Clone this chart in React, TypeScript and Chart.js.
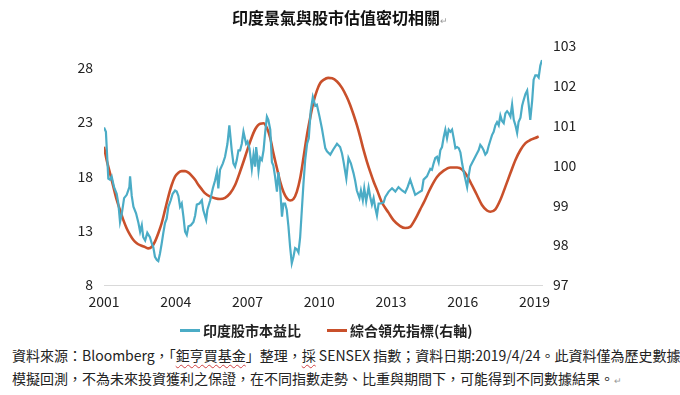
import React, { useEffect, useRef } from "react";
import { Chart, registerables } from "chart.js";

Chart.register(...registerables);

const chartTitle = "印度景氣與股市估值密切相關";
const seriesNames = ["印度股市本益比", "綜合領先指標(右軸)"];
const xTickYears = [2001, 2004, 2007, 2010, 2013, 2016, 2019];
const leftTicks = [8, 13, 18, 23, 28];
const rightTicks = [97, 98, 99, 100, 101, 102, 103];

// 印度股市本益比 (left axis)
const peYears = [
  2001.0, 2001.08, 2001.18, 2001.25, 2001.32, 2001.42, 2001.53, 2001.6, 2001.67, 2001.74,
  2001.84, 2001.95, 2002.06, 2002.09, 2002.16, 2002.23, 2002.34, 2002.44, 2002.51, 2002.58,
  2002.64, 2002.72, 2002.81, 2002.92, 2003.0, 2003.06, 2003.13, 2003.21, 2003.27, 2003.34,
  2003.41, 2003.48, 2003.55, 2003.62, 2003.69, 2003.79, 2003.87, 2003.97, 2004.04, 2004.11,
  2004.18, 2004.25, 2004.32, 2004.39, 2004.46, 2004.53, 2004.63, 2004.74, 2004.81, 2004.88,
  2004.99, 2005.09, 2005.15, 2005.27, 2005.32, 2005.44, 2005.55, 2005.64, 2005.72, 2005.78,
  2005.85, 2005.97, 2006.06, 2006.16, 2006.24, 2006.34, 2006.41, 2006.48, 2006.55, 2006.62,
  2006.69, 2006.76, 2006.83, 2006.94, 2007.0, 2007.08, 2007.14, 2007.18, 2007.25, 2007.32,
  2007.36, 2007.41, 2007.46, 2007.53, 2007.6, 2007.67, 2007.74, 2007.81, 2007.87, 2007.95,
  2008.02, 2008.08, 2008.15, 2008.23, 2008.29, 2008.36, 2008.44, 2008.5, 2008.57, 2008.64,
  2008.71, 2008.78, 2008.85, 2008.92, 2008.99, 2009.06, 2009.13, 2009.2, 2009.27, 2009.34,
  2009.41, 2009.49, 2009.56, 2009.64, 2009.73, 2009.83, 2009.9, 2010.01, 2010.11, 2010.18,
  2010.25, 2010.32, 2010.46, 2010.59, 2010.74, 2010.87, 2010.95, 2011.01, 2011.13, 2011.22,
  2011.32, 2011.43, 2011.5, 2011.57, 2011.68, 2011.74, 2011.82, 2011.88, 2011.96, 2012.06,
  2012.13, 2012.2, 2012.27, 2012.34, 2012.41, 2012.48, 2012.57, 2012.69, 2012.76, 2012.9,
  2013.04, 2013.18, 2013.31, 2013.46, 2013.59, 2013.69, 2013.8, 2013.92, 2014.01, 2014.15,
  2014.29, 2014.36, 2014.5, 2014.64, 2014.71, 2014.78, 2014.85, 2014.92, 2014.99, 2015.06,
  2015.13, 2015.2, 2015.27, 2015.34, 2015.41, 2015.48, 2015.55, 2015.62, 2015.69, 2015.76,
  2015.83, 2015.9, 2015.97, 2016.03, 2016.1, 2016.18, 2016.24, 2016.31, 2016.38, 2016.45,
  2016.52, 2016.59, 2016.66, 2016.73, 2016.8, 2016.87, 2016.94, 2017.01, 2017.08, 2017.15,
  2017.22, 2017.29, 2017.36, 2017.43, 2017.5, 2017.57, 2017.64, 2017.71, 2017.78, 2017.85,
  2017.92, 2017.99, 2018.06, 2018.13, 2018.2, 2018.27, 2018.33, 2018.41, 2018.48, 2018.54,
  2018.62, 2018.69, 2018.75, 2018.82, 2018.9, 2018.96, 2019.03, 2019.1, 2019.17, 2019.24,
  2019.31,
];
const peValues = [
  22.5, 22.1, 17.8, 17.7, 18.0, 17.0, 16.4, 15.5, 13.8, 14.5,
  16.0, 16.3, 17.0, 18.0, 16.2, 15.2, 14.6, 13.7, 12.9, 13.5,
  12.4, 12.1, 12.8, 12.4, 11.8, 11.5, 10.6, 10.3, 10.2, 10.9,
  11.8, 12.8, 13.7, 14.1, 15.2, 15.8, 16.4, 16.7, 16.6, 16.2,
  15.2, 15.5, 14.3, 12.9, 12.6, 13.4, 13.5, 13.8, 14.4, 15.4,
  15.5, 15.8, 14.9, 14.0, 14.9, 15.8, 16.9, 17.6, 18.4, 16.9,
  18.6, 19.2, 19.8, 21.0, 22.7, 20.4, 19.2, 18.9, 19.5, 20.4,
  20.4, 21.0, 22.1, 21.0, 21.2, 20.6, 19.5, 18.7, 20.0, 18.9,
  20.7, 19.8, 18.5, 19.7, 19.5, 20.4, 22.1, 23.5, 23.2, 22.3,
  19.3, 19.0, 18.0, 16.6, 18.4, 17.0, 14.3, 15.5, 15.5, 14.9,
  13.4, 11.5, 10.0, 10.6, 11.4, 11.3, 11.0, 12.4, 14.9, 17.4,
  19.5, 21.0, 21.5, 24.0, 25.3, 24.5, 24.6, 23.5, 22.4, 21.5,
  20.6, 20.3, 20.0, 20.5, 21.0, 20.7, 20.1, 19.4, 17.8, 19.7,
  19.2, 18.3, 17.6, 16.7, 16.0, 16.7, 15.8, 16.9, 15.7, 17.0,
  16.1, 15.4, 16.0, 15.1, 14.4, 15.5, 15.5, 15.6, 16.1, 16.6,
  16.9, 16.6, 17.0, 16.7, 16.5, 17.0, 17.7, 16.9, 16.3, 16.5,
  16.7, 17.7, 18.0, 18.7, 18.6, 19.2, 19.7, 19.8, 19.3, 20.4,
  20.7, 21.6, 22.3, 21.5, 22.3, 22.1, 22.3, 21.5, 20.6, 20.7,
  20.6, 20.2, 19.2, 18.5, 17.8, 17.0, 18.0, 18.9, 19.2, 19.5,
  19.8, 20.1, 20.4, 20.9, 20.7, 20.4, 20.0, 20.2, 20.8, 21.3,
  21.8, 22.1, 22.7, 23.0, 22.7, 23.6, 23.1, 22.9, 23.8, 24.0,
  23.8, 23.5, 24.6, 23.2, 22.7, 22.0, 23.0, 23.4, 24.5, 25.0,
  25.6, 25.9, 24.7, 23.2, 25.0, 26.9, 27.3, 27.3, 27.1, 28.2,
  28.7,
];

// 綜合領先指標 (right axis)
const leadYears = [
  2001.0, 2001.11, 2001.25, 2001.39, 2001.53, 2001.67, 2001.81, 2001.95, 2002.09, 2002.23,
  2002.37, 2002.51, 2002.72, 2002.85, 2003.0, 2003.13, 2003.27, 2003.41, 2003.55, 2003.69,
  2003.83, 2003.97, 2004.11, 2004.25, 2004.39, 2004.53, 2004.67, 2004.81, 2004.95, 2005.09,
  2005.23, 2005.44, 2005.64, 2005.85, 2006.06, 2006.27, 2006.48, 2006.69, 2006.9, 2007.11,
  2007.32, 2007.53, 2007.67, 2007.81, 2007.95, 2008.08, 2008.23, 2008.36, 2008.5, 2008.64,
  2008.78, 2008.92, 2009.06, 2009.2, 2009.34, 2009.48, 2009.62, 2009.76, 2009.9, 2010.04,
  2010.18, 2010.37, 2010.54, 2010.74, 2010.95, 2011.15, 2011.29, 2011.43, 2011.57, 2011.71,
  2011.85, 2011.99, 2012.13, 2012.27, 2012.41, 2012.62, 2012.9, 2013.1, 2013.38, 2013.59,
  2013.8, 2013.94, 2014.08, 2014.22, 2014.36, 2014.5, 2014.64, 2014.92, 2015.2, 2015.48,
  2015.76, 2015.97, 2016.18, 2016.38, 2016.59, 2016.8, 2017.01, 2017.15, 2017.36, 2017.57,
  2017.78, 2017.99, 2018.2, 2018.41, 2018.62, 2018.82, 2019.03, 2019.17,
];
const leadValues = [
  100.47, 100.14, 99.81, 99.47, 99.14, 98.88, 98.63, 98.42, 98.26, 98.13,
  98.05, 98.0, 97.95, 97.92, 97.96, 98.09, 98.3, 98.55, 98.88, 99.22,
  99.51, 99.72, 99.82, 99.86, 99.86, 99.82, 99.74, 99.64, 99.51, 99.4,
  99.3, 99.22, 99.18, 99.16, 99.19, 99.3, 99.51, 99.85, 100.22, 100.6,
  100.91, 101.05, 101.06, 100.94, 100.69, 100.31, 99.93, 99.6, 99.34, 99.18,
  99.12, 99.16, 99.34, 99.68, 100.2, 100.75, 101.2, 101.6, 101.88, 102.07,
  102.15, 102.2, 102.19, 102.11, 101.95, 101.72, 101.52, 101.28, 101.02, 100.72,
  100.39, 100.1, 99.84, 99.6, 99.39, 99.07, 98.81, 98.63, 98.48, 98.43,
  98.46, 98.58, 98.73, 98.9, 99.06, 99.24, 99.42, 99.71, 99.87, 99.95,
  99.95, 99.9, 99.74, 99.51, 99.26, 99.01, 98.87, 98.84, 98.9, 99.14,
  99.47, 99.81, 100.14, 100.39, 100.56, 100.64, 100.69, 100.73,
];

const BLUE = "#4BACC6";
const RED = "#C9502B";
const FONT = '"Noto Sans CJK TC", "Noto Sans", sans-serif';

export default function App() {
  const canvasRef = useRef<HTMLCanvasElement | null>(null);

  useEffect(() => {
    document.body.style.margin = "0";
    const canvas = canvasRef.current;
    if (!canvas) return;
    const chart = new Chart(canvas, {
      type: "line",
      data: {
        datasets: [
          {
            label: seriesNames[0],
            data: peYears.map((x, i) => ({ x, y: peValues[i] })),
            yAxisID: "y",
            borderColor: BLUE,
            backgroundColor: BLUE,
            borderWidth: 2.2,
            pointRadius: 0,
            tension: 0,
          },
          {
            label: seriesNames[1],
            data: leadYears.map((x, i) => ({ x, y: leadValues[i] })),
            yAxisID: "y1",
            borderColor: RED,
            backgroundColor: RED,
            borderWidth: 2.6,
            pointRadius: 0,
            cubicInterpolationMode: "monotone",
          },
        ],
      },
      options: {
        responsive: false,
        animation: false,
        layout: { padding: { top: 46, right: 20, bottom: 0, left: 0 } },
        plugins: {
          tooltip: { enabled: false },
          title: { display: false },
          legend: { display: false },
        },
        scales: {
          x: {
            type: "linear",
            min: 2001,
            max: 2019.31,
            afterBuildTicks: (axis: any) => {
              axis.ticks = xTickYears.map((v) => ({ value: v }));
            },
            afterFit: (axis: any) => {
              axis.height = 35;
            },
            grid: { display: false, drawTicks: false },
            border: { display: true, color: "#d9d9d9", width: 1 },
            ticks: {
              padding: 8,
              autoSkip: false,
              maxRotation: 0,
              color: "#222",
              font: { family: FONT, size: 14 },
              callback: (v: any) => String(v),
            },
          },
          y: {
            position: "left",
            min: 8,
            max: 30,
            afterBuildTicks: (axis: any) => {
              axis.ticks = leftTicks.map((v) => ({ value: v }));
            },
            afterFit: (axis: any) => {
              axis.width = 104;
            },
            grid: { display: false, drawTicks: false },
            border: { display: false },
            ticks: {
              padding: 11,
              color: "#222",
              font: { family: FONT, size: 14 },
            },
          },
          y1: {
            position: "right",
            min: 97,
            max: 103,
            afterBuildTicks: (axis: any) => {
              axis.ticks = rightTicks.map((v) => ({ value: v }));
            },
            afterFit: (axis: any) => {
              axis.width = 118;
            },
            grid: { display: false, drawTicks: false },
            border: { display: false },
            ticks: {
              padding: 11,
              color: "#222",
              font: { family: FONT, size: 14 },
            },
          },
        },
      },
    } as any);
    return () => chart.destroy();
  }, []);

  const wavy: React.CSSProperties = {
    textDecoration: "underline wavy #d04040",
    textDecorationThickness: "1px",
    textUnderlineOffset: "3px",
  };
  const mark: React.CSSProperties = { fontSize: 9, color: "#999", fontWeight: "normal" };
  const legendLine = (color: string): React.CSSProperties => ({
    display: "inline-block",
    width: 20,
    height: 3,
    background: color,
    marginRight: 3,
    verticalAlign: "middle",
  });

  return (
    <div
      style={{
        position: "relative",
        width: 680,
        height: 395,
        background: "#fff",
        overflow: "hidden",
        fontFamily: FONT,
      }}
    >
      <canvas
        ref={canvasRef}
        width={680}
        height={320}
        style={{ position: "absolute", left: 0, top: 0, width: 680, height: 320 }}
      />
      <div
        style={{
          position: "absolute",
          left: 0,
          top: 6,
          width: 680,
          textAlign: "center",
          fontSize: 16,
          lineHeight: "22px",
          fontWeight: "bold",
          color: "#111",
        }}
      >
        {chartTitle}
        <span style={mark}>↵</span>
      </div>
      <div
        style={{
          position: "absolute",
          left: 180,
          top: 319,
          height: 22,
          display: "flex",
          alignItems: "center",
          fontSize: 14,
          lineHeight: "22px",
          fontWeight: "bold",
          color: "#222",
          whiteSpace: "nowrap",
        }}
      >
        <span style={{ display: "flex", alignItems: "center" }}>
          <span style={legendLine(BLUE)} />
          {seriesNames[0]}
        </span>
        <span style={{ display: "flex", alignItems: "center", marginLeft: 26 }}>
          <span style={legendLine(RED)} />
          {seriesNames[1]}
        </span>
      </div>
      <div
        style={{
          position: "absolute",
          left: 12,
          top: 344,
          fontSize: 14,
          lineHeight: "23px",
          color: "#222",
          whiteSpace: "nowrap",
        }}
      >
        <div>
          資料來源：Bloomberg，「<span style={wavy}>鉅亨買基金</span>」整理，
          <span style={wavy}>採</span> SENSEX 指數；資料日期:2019/4/24。此資料僅為歷史數據
        </div>
        <div>
          模擬回測，不為未來投資獲利之保證，在不同指數走勢、比重與期間下，可能得到不同數據結果。
          <span style={mark}>↵</span>
        </div>
      </div>
    </div>
  );
}
